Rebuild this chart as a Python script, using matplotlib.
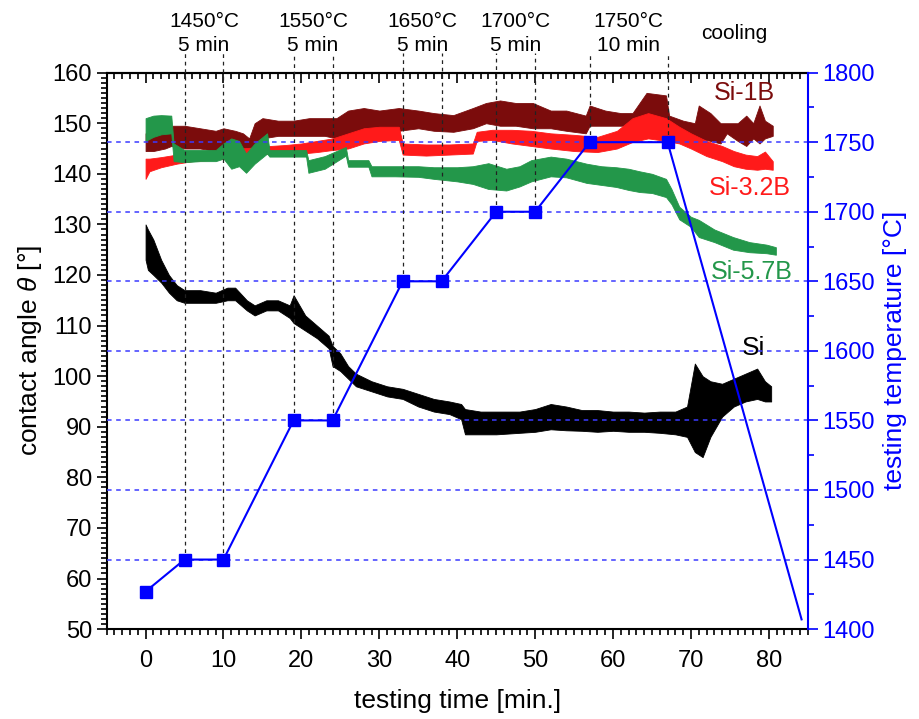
import matplotlib
matplotlib.use("Agg")
import matplotlib.pyplot as plt
from matplotlib.ticker import MultipleLocator

plt.rcParams['font.family'] = ['Liberation Sans', 'DejaVu Sans']
plt.rcParams['mathtext.fontset'] = 'custom'
plt.rcParams['mathtext.it'] = 'Liberation Sans:italic'

# temperature program (right axis)
temp_t = [0, 5, 10, 19, 24, 33, 38, 45, 50, 57, 67, 84.2]
temp_v = [1427, 1450, 1450, 1550, 1550, 1650, 1650, 1700, 1700, 1750, 1750, 1407]
temp_grid = [1450, 1500, 1550, 1600, 1650, 1700, 1750]

# step annotations
step_labels = ["1450\u00b0C\n5 min", "1550\u00b0C\n5 min", "1650\u00b0C\n5 min",
               "1700\u00b0C\n5 min", "1750\u00b0C\n10 min"]
step_centers = [7.5, 21.5, 35.5, 47.5, 62]

# Si (black) - noisy band, lower / upper envelope
si_t = [0, 0.3, 1, 2, 3, 4, 5, 7, 9, 10.5, 11.5, 13, 14, 15.5, 17, 18.5, 19, 20.5, 22, 23.5,
        24, 25, 26, 27, 29, 31, 33, 35, 37, 39, 40.5, 41, 43, 45, 48, 50, 52, 54, 56, 58,
        60, 62, 64, 66, 68, 69.5, 70.5, 71.5, 72.5, 74, 75.5, 77, 78.5, 79.5, 80.3]
si_lo = [123, 121, 120, 118.5, 116.5, 115, 114.5, 114.5, 114.5, 115, 115, 113, 112, 113, 113,
         111.5, 110.5, 109, 107.5, 105.5, 102, 101, 99.5, 98, 97, 96, 95.5, 94, 93, 92.5,
         91.5, 88.5, 88.5, 88.5, 88.8, 89, 89.5, 89.3, 89.2, 89, 89.2, 89, 89, 88.8, 88.5,
         88, 85, 84, 88, 92, 94, 95, 95.5, 95, 95]
si_hi = [130, 129, 127, 123, 120, 118, 117, 117, 116.5, 117.5, 117.5, 115, 114, 115, 115,
         114, 116, 112, 110, 108, 106, 104.5, 102, 100.5, 99, 98, 97.5, 96.5, 95.5, 95,
         94.5, 93.5, 93, 93, 93, 93.5, 94.5, 94, 93.3, 93.3, 93, 93, 92.8, 93, 93,
         94, 102.5, 100, 99, 98.5, 99.5, 100.5, 101.5, 99, 98]

# Si-1B (dark red)
b1_t = [0, 1, 2.5, 3.3, 5, 7, 9, 10, 11.5, 12.5, 13.3, 14, 15, 17, 19, 21, 23, 24.5, 26, 28,
        30, 32.5, 35, 37, 39.5, 42, 43.7, 45.5, 47.5, 49.7, 52, 54, 56.5, 57, 59, 61, 62.5,
        64.3, 66.8, 67.2, 69, 70.5, 71, 72.5, 73.8, 74.6, 76, 77.1, 78, 78.8, 79.5, 80.5]
b1_lo = [144.5, 144.5, 145, 145.5, 145, 145, 144.5, 145, 144.5, 142, 141.5, 144, 147, 147.5,
         147.5, 147.5, 147.5, 147, 147, 149, 148.5, 148.5, 149, 148.5, 148.3, 149, 150,
         149.5, 149.5, 149, 149, 148.5, 148, 149.5, 149.5, 149.5, 149.5, 150, 150, 148,
         147.5, 146.7, 147, 146.5, 146, 148, 146.5, 145.5, 147, 146, 147, 147.5]
b1_hi = [148, 148.5, 148.5, 149.5, 149.5, 149, 148.5, 149, 148.5, 148, 147, 150, 151, 150.5,
         150.5, 151, 151, 151, 152.5, 153, 152.5, 153, 152.5, 152, 151.6, 153, 154, 154.5,
         154, 154, 152.5, 152.5, 151.5, 153.5, 152.5, 152, 152, 156, 155.5, 151.5, 150.5,
         150, 153.5, 152, 150, 150, 150, 151.5, 150, 153.5, 150.5, 149.5]

# Si-3.2B (red)
b32_t = [0, 0.5, 2, 4, 6, 8, 10, 12, 14, 16, 18, 20, 22, 24, 26, 28, 30, 32.5, 33, 36, 39,
         42, 42.5, 44.5, 47, 49.5, 52, 55, 58, 60.5, 62.5, 64.5, 66.8, 68.5, 70, 72, 74,
         75.5, 77, 78.5, 79.5, 80.5]
b32_lo = [139, 140.5, 141.3, 142, 142.5, 142.7, 143, 143.5, 143.8, 144, 144, 144, 144.3,
          144.7, 145, 146, 146.5, 146.7, 143.8, 143.6, 143.8, 144, 146.5, 146.7, 146, 145.5,
          145, 144.5, 144.3, 145, 146.3, 147, 146.5, 146, 145, 143.5, 142.5, 141.5, 141,
          140.8, 141, 140.8]
b32_hi = [143, 143, 143.3, 143.8, 144.2, 144.5, 144.5, 145, 145.2, 145.5, 145.7, 146, 146.5,
          147, 148, 149, 149.3, 149.3, 146, 145.8, 145.8, 146, 148.3, 148.7, 148.7, 148.5,
          148, 147.7, 147.3, 148.5, 151, 152, 151, 149.3, 148, 146.5, 145.5, 144.5, 143.8,
          143.5, 144.4, 142.5]

# Si-5.7B (green)
b57_t = [0, 1, 2, 3.3, 3.6, 5, 7, 9, 10, 11, 12, 12.9, 14, 15.6, 15.9, 18, 20.6, 20.9, 23,
         25.7, 26, 28.6, 29, 32, 35, 37, 40, 42, 44, 46.3, 48, 49.5, 52, 54, 56.6, 58.5,
         60.4, 62, 63.4, 65, 66.8, 67.5, 68.5, 70, 71, 73, 75.4, 77.5, 79.7, 80.9]
b57_lo = [146.5, 147.3, 147.8, 148, 142.5, 142.3, 142.5, 142.5, 143, 141, 141.5, 140.2, 142,
          144, 143.4, 143.4, 143.4, 140.2, 141, 143.6, 141.4, 141.4, 139.5, 139.5, 139.4,
          139, 138.5, 138, 137, 136.7, 137.5, 138.5, 139.5, 139.3, 138.2, 137.8, 137.4,
          136.8, 136.4, 136.2, 135.4, 134, 131, 129.5, 127.5, 126.5, 125, 124.5, 124.3, 124]
b57_hi = [151, 151.5, 151.6, 151.5, 146, 144.7, 144.7, 144.7, 146, 147, 146.5, 144, 146, 148,
          144.7, 144.7, 144.7, 142.7, 143.5, 145.3, 142.7, 142.7, 141.5, 141.5, 141.5, 141.3,
          141.3, 141.5, 142.1, 141, 141.5, 142.7, 143.4, 143, 142, 141.5, 141.3, 141,
          140.5, 140, 139, 137, 133.5, 131.5, 130.9, 129, 127.5, 126.5, 126, 125.5]

c_1b = '#7b0c0c'
c_32 = '#ff1a1a'
c_57 = '#23974a'
c_si = 'black'
blue = '#0000ff'

fig = plt.figure(figsize=(9.19, 7.19), dpi=100)
ax = fig.add_axes([0.116, 0.125, 0.763, 0.774])
ax2 = ax.twinx()

ax.fill_between(b1_t, b1_lo, b1_hi, color=c_1b, lw=0.6, zorder=2)
ax.fill_between(b32_t, b32_lo, b32_hi, color=c_32, lw=0.6, zorder=3)
ax.fill_between(b57_t, b57_lo, b57_hi, color=c_57, lw=0.6, zorder=4)
ax.fill_between(si_t, si_lo, si_hi, color=c_si, lw=0.6, zorder=5)

ax.set_xlim(-5, 85)
ax.set_ylim(50, 160)
ax2.set_ylim(1400, 1800)

# temperature grid and program
for g in temp_grid:
    ax2.axhline(g, color='#3a3aff', ls=(0, (3, 3)), lw=1.1, zorder=1)
for t, v in zip(temp_t[1:-1], temp_v[1:-1]):
    ax2.plot([t, t], [v, 1814], color='#222222', ls=(0, (3, 3)), lw=0.9,
             clip_on=False, zorder=1)
ax2.plot(temp_t, temp_v, color=blue, lw=1.5, marker='s', ms=8,
         markevery=list(range(len(temp_t) - 1)), zorder=6)

# text annotations on top
for lab, xc in zip(step_labels, step_centers):
    ax.text(xc, 1.07, lab, transform=ax.get_xaxis_transform(), ha='center', va='center',
            fontsize=15, linespacing=1.3)
ax.text(75.5, 1.071, "cooling", transform=ax.get_xaxis_transform(), ha='center',
        va='center', fontsize=15)

ax.text(76.8, 156, "Si-1B", color=c_1b, fontsize=18, ha='center', va='center')
ax.text(77.5, 137.2, "Si-3.2B", color=c_32, fontsize=18, ha='center', va='center')
ax.text(77.8, 120.6, "Si-5.7B", color=c_57, fontsize=18, ha='center', va='center')
ax.text(78, 105.6, "Si", color='black', fontsize=19, ha='center', va='center')

# axes styling
ax.set_xticks(range(0, 90, 10))
ax.xaxis.set_minor_locator(MultipleLocator(1))
ax.yaxis.set_major_locator(MultipleLocator(10))
ax.yaxis.set_minor_locator(MultipleLocator(1))
ax.tick_params(axis='both', which='both', direction='out', right=False, top=False,
               labelsize=17, width=1.2)
ax.tick_params(which='major', length=7)
ax.tick_params(which='minor', length=4)
ax.tick_params(axis='x', pad=8)
for sp in ax.spines.values():
    sp.set_linewidth(1.5)
ax.spines['right'].set_visible(False)

ax2.yaxis.set_major_locator(MultipleLocator(50))
ax2.yaxis.set_minor_locator(MultipleLocator(25))
ax2.tick_params(axis='y', which='both', colors=blue, labelsize=17, width=1.2, direction='out')
ax2.tick_params(axis='y', which='major', length=7)
ax2.tick_params(axis='y', which='minor', length=4)
ax2.spines['right'].set_color(blue)
ax2.spines['right'].set_linewidth(1.5)
for s in ['top', 'left', 'bottom']:
    ax2.spines[s].set_visible(False)

ax.set_xlabel("testing time [min.]", fontsize=19, labelpad=12)
ax.set_ylabel(r"contact angle $\theta$ [°]", fontsize=19, labelpad=6)
ax2.set_ylabel("testing temperature [°C]", fontsize=19, color=blue, labelpad=6)

# top ticks point inward
ax_top = ax.secondary_xaxis('top')
ax_top.set_xticks(range(0, 90, 10))
ax_top.xaxis.set_minor_locator(MultipleLocator(1))
ax_top.tick_params(which='both', direction='in', labeltop=False, width=1.2)
ax_top.tick_params(which='major', length=7)
ax_top.tick_params(which='minor', length=4)
ax_top.spines['top'].set_linewidth(1.5)

fig.savefig("out.png", dpi=100)
